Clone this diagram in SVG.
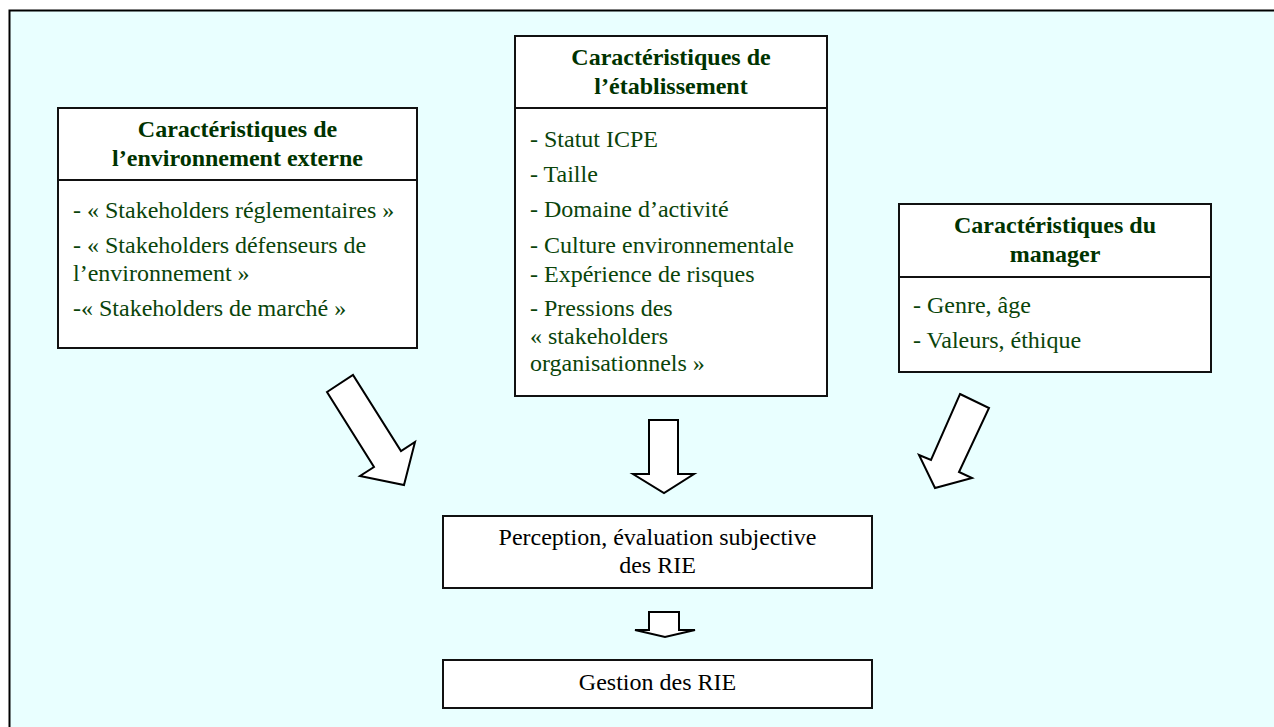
<svg xmlns="http://www.w3.org/2000/svg" width="1274" height="727" viewBox="0 0 1274 727">
  <style>
    .box { fill: #ffffff; stroke: #111111; stroke-width: 2; }
    .div { stroke: #111111; stroke-width: 2; }
    .hd { font-family: "Liberation Serif", "Times New Roman", serif; font-size: 24px; font-weight: bold; fill: #003300; text-anchor: middle; }
    .it { font-family: "Liberation Serif", "Times New Roman", serif; font-size: 24px; fill: #0a440a; }
    .bk { font-family: "Liberation Serif", "Times New Roman", serif; font-size: 24px; fill: #000000; text-anchor: middle; }
    .arr { fill: #ffffff; stroke: #000000; stroke-width: 2; stroke-linejoin: miter; }
  </style>
  <rect x="0" y="0" width="1274" height="727" fill="#ffffff"/>
  <rect x="9.5" y="10.5" width="1300" height="800" fill="#E9FFFF" stroke="#000000" stroke-width="2"/>

  <g id="env-externe">
    <rect class="box" x="58" y="108" width="359" height="240"/>
    <line class="div" x1="58" y1="180" x2="417" y2="180"/>
    <text class="hd" x="237.5" y="137">Caractéristiques de</text>
    <text class="hd" x="237.5" y="166">l’environnement externe</text>
    <text class="it" x="73" y="218">- « Stakeholders réglementaires »</text>
    <text class="it" x="73" y="253">- « Stakeholders défenseurs de</text>
    <text class="it" x="73" y="281">l’environnement »</text>
    <text class="it" x="73" y="316">-« Stakeholders de marché »</text>
  </g>

  <g id="etablissement">
    <rect class="box" x="515" y="36" width="312" height="360"/>
    <line class="div" x1="515" y1="108" x2="827" y2="108"/>
    <text class="hd" x="671" y="65">Caractéristiques de</text>
    <text class="hd" x="671" y="94">l’établissement</text>
    <text class="it" x="530" y="147">- Statut ICPE</text>
    <text class="it" x="530" y="182">- Taille</text>
    <text class="it" x="530" y="217">- Domaine d’activité</text>
    <text class="it" x="530" y="253">- Culture environnementale</text>
    <text class="it" x="530" y="282">- Expérience de risques</text>
    <text class="it" x="530" y="316">- Pressions des</text>
    <text class="it" x="530" y="344">« stakeholders</text>
    <text class="it" x="530" y="371">organisationnels »</text>
  </g>

  <g id="manager">
    <rect class="box" x="899" y="204" width="312" height="168"/>
    <line class="div" x1="899" y1="277" x2="1211" y2="277"/>
    <text class="hd" x="1055" y="233">Caractéristiques du</text>
    <text class="hd" x="1055" y="262">manager</text>
    <text class="it" x="913" y="313">- Genre, âge</text>
    <text class="it" x="913" y="348">- Valeurs, éthique</text>
  </g>

  <g id="perception">
    <rect class="box" x="443" y="516" width="429" height="72"/>
    <text class="bk" x="657.5" y="545">Perception, évaluation subjective</text>
    <text class="bk" x="657.5" y="573">des RIE</text>
  </g>

  <g id="gestion">
    <rect class="box" x="443" y="660" width="429" height="48"/>
    <text class="bk" x="657.5" y="690">Gestion des RIE</text>
  </g>

  <g id="connectors">
    <polygon class="arr" points="327,392 353,375 401,451 415,442 404,485 360,476 374,467"/>
    <polygon class="arr" points="649,420 678,420 678,474 694,474 664,493 633,474 649,474"/>
    <polygon class="arr" points="960,394 989,408 959,472 972,478 935,488 919,455 931,460"/>
    <polygon class="arr" points="649,612 679,612 679,630 695,630 665,637 635,630 649,630"/>
  </g>
</svg>
